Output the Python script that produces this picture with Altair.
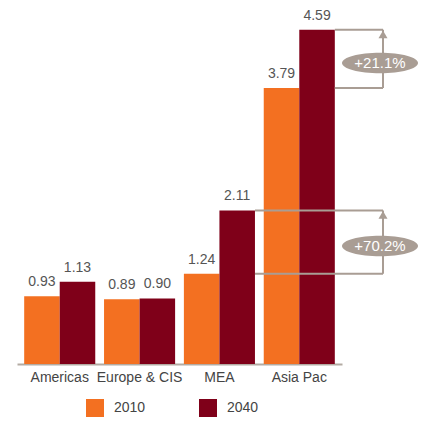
import altair as alt
import pandas as pd

regions = ["Americas", "Europe & CIS", "MEA", "Asia Pac"]
years = ["2010", "2040"]
v2010 = [0.93, 0.89, 1.24, 3.79]
v2040 = [1.13, 0.90, 2.11, 4.59]
labels2010 = ["0.93", "0.89", "1.24", "3.79"]
labels2040 = ["1.13", "0.90", "2.11", "4.59"]

ann_region = ["MEA", "Asia Pac"]
ann_lo = [1.24, 3.79]
ann_hi = [2.11, 4.59]
ann_text = ["+70.2%", "+21.1%"]

colors = ["#F37021", "#7F0019"]
ann_color = "#A99D94"
FONT = "Liberation Sans"

rows = []
for r, a, b, la, lb in zip(regions, v2010, v2040, labels2010, labels2040):
    rows.append({"region": r, "year": "2010", "value": a, "label": la})
    rows.append({"region": r, "year": "2040", "value": b, "label": lb})
df = pd.DataFrame(rows)

ann = pd.DataFrame({"region": ann_region, "lo": ann_lo, "hi": ann_hi, "text": ann_text})
hl_rows = []
for r, lo, hi in zip(ann_region, ann_lo, ann_hi):
    hl_rows.append({"region": r, "v": lo})
    hl_rows.append({"region": r, "v": hi})
hl = pd.DataFrame(hl_rows)

# annotation bracket positions (pixels from plot-area left edge)
BRACKET_X = 366
BADGE_X = 363

xscale = alt.Scale(domain=regions, paddingInner=0.11, paddingOuter=0.09)
yscale = alt.Scale(domain=[0, 5], nice=False, zero=True)

x_axis = alt.Axis(title=None, ticks=False, labelAngle=0, labelFontSize=14,
                  labelColor="#444444", labelFont=FONT, labelPadding=6,
                  bandPosition=0.5, domainColor="#B3ABA3", domainWidth=2)
x_enc = alt.X("region:N", scale=xscale, sort=regions, axis=x_axis)
y_enc = alt.Y("value:Q", scale=yscale, axis=None)

bars = alt.Chart(df).mark_bar().encode(
    x=x_enc,
    xOffset=alt.XOffset("year:N", scale=alt.Scale(paddingInner=0, paddingOuter=0)),
    y=y_enc,
    color=alt.Color("year:N", scale=alt.Scale(domain=years, range=colors),
                    legend=alt.Legend(title=None, orient="none", legendX=69, legendY=399,
                                      direction="horizontal", symbolType="square",
                                      symbolSize=324, symbolStrokeWidth=0,
                                      symbolOpacity=1, labelFontSize=14,
                                      labelColor="#444444", labelFont=FONT,
                                      labelOffset=10, columnPadding=53, padding=0)),
)

hlines = alt.Chart(hl).mark_rule(color=ann_color, strokeWidth=2).encode(
    x=alt.X("region:N", scale=xscale, sort=regions, bandPosition=1, axis=x_axis),
    x2=alt.value(BRACKET_X),
    y=alt.Y("v:Q", scale=yscale, axis=None),
)

texts = alt.Chart(df).mark_text(baseline="alphabetic", dy=-10, fontSize=14,
                                color="#555555", font=FONT).encode(
    x=x_enc,
    xOffset=alt.XOffset("year:N", scale=alt.Scale(paddingInner=0, paddingOuter=0)),
    y=y_enc,
    text="label:N",
)

vline = alt.Chart(ann).mark_rule(color=ann_color, strokeWidth=2).encode(
    x=alt.value(BRACKET_X),
    y=alt.Y("lo:Q", scale=yscale, axis=None),
    y2="hi:Q",
)

arrow = alt.Chart(ann).mark_point(shape="triangle-up", filled=True, size=81,
                                  color=ann_color, opacity=1, yOffset=4.5,
                                  strokeWidth=0).encode(
    x=alt.value(BRACKET_X),
    y=alt.Y("hi:Q", scale=yscale, axis=None),
)

ry = 0.27
k = 0.5523
ellipse_path = (
    f"M -1 0 C -1 {-k*ry:.4f} {-k:.4f} {-ry} 0 {-ry} "
    f"C {k:.4f} {-ry} 1 {-k*ry:.4f} 1 0 "
    f"C 1 {k*ry:.4f} {k:.4f} {ry} 0 {ry} "
    f"C {-k:.4f} {ry} -1 {k*ry:.4f} -1 0 Z"
)
ell = alt.Chart(ann).transform_calculate(mid="(datum.lo + datum.hi) / 2").mark_point(
    shape=ellipse_path, filled=True, size=5776, color=ann_color, opacity=1,
    strokeWidth=0, yOffset=4).encode(
    x=alt.value(BADGE_X),
    y=alt.Y("mid:Q", scale=yscale, axis=None),
)

ell_text = alt.Chart(ann).transform_calculate(mid="(datum.lo + datum.hi) / 2").mark_text(
    color="white", fontSize=15, font=FONT, baseline="middle", align="center",
    yOffset=4).encode(
    x=alt.value(BADGE_X),
    y=alt.Y("mid:Q", scale=yscale, axis=None),
    text="text:N",
)

chart = alt.layer(bars, hlines, texts, vline, arrow, ell, ell_text).properties(
    width=325, height=364,
    padding={"left": 17, "top": 0, "right": 83, "bottom": 57},
    autosize="none",
    background="white",
).configure_view(stroke=None, strokeWidth=0)

chart.save("out.html", embed_options={"renderer": "svg", "actions": False})
